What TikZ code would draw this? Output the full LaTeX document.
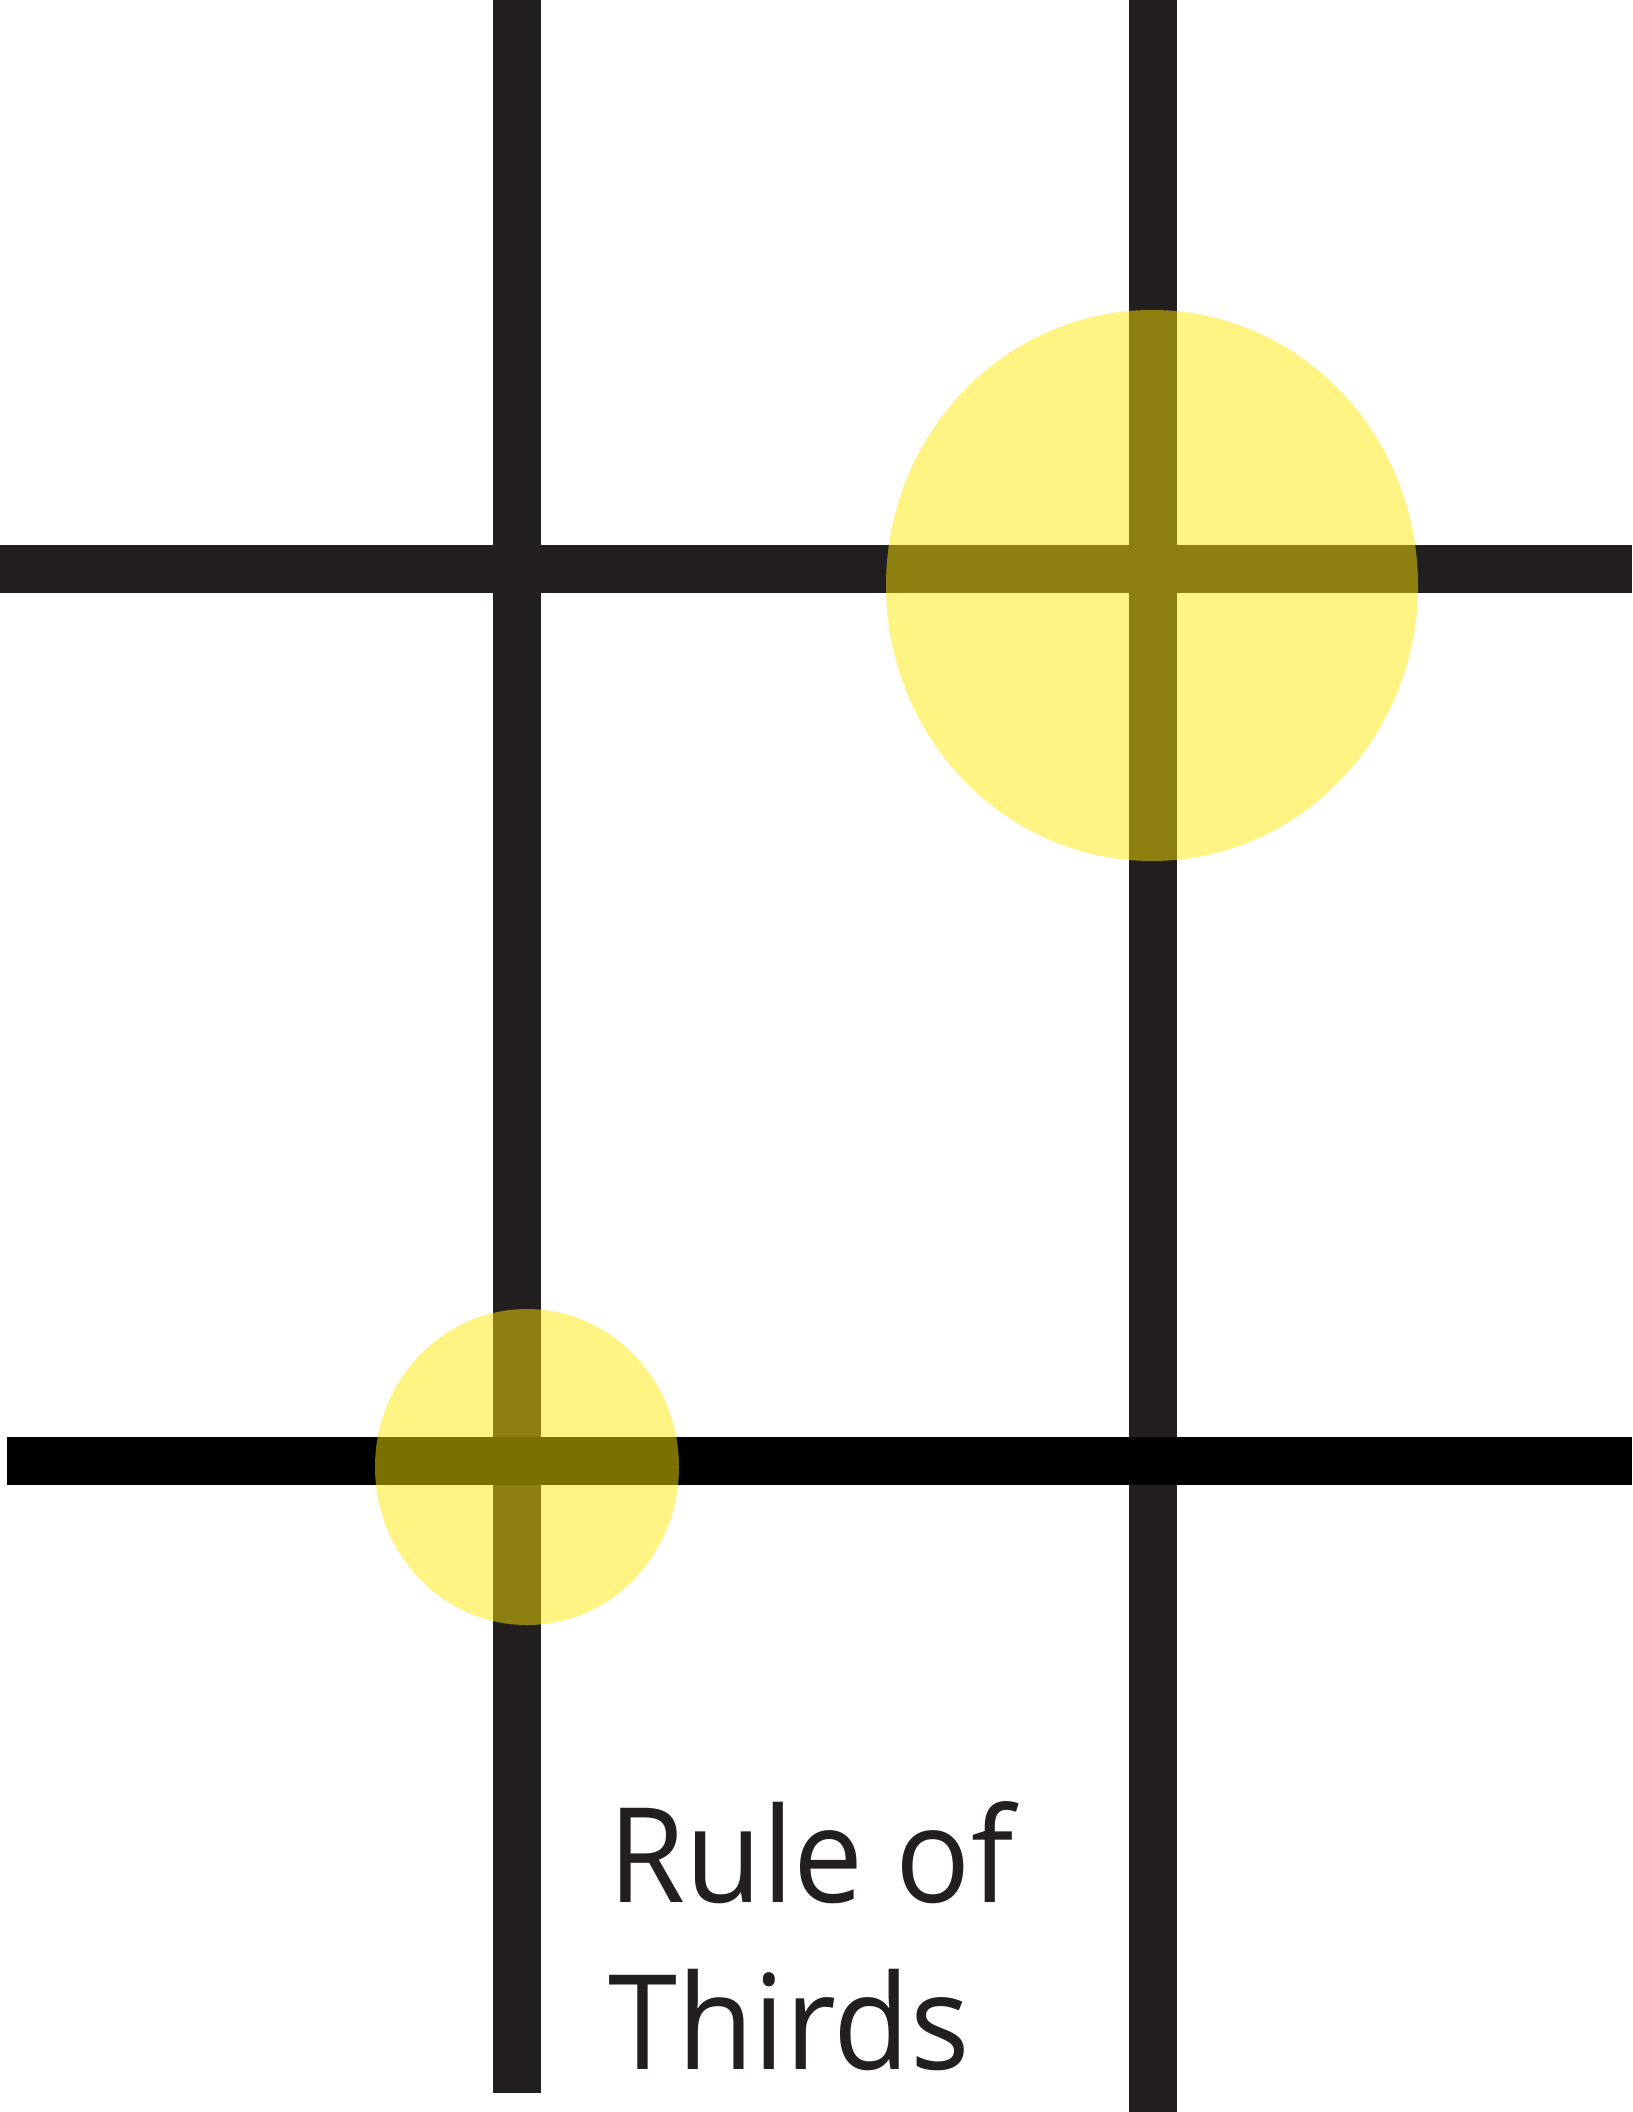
\documentclass[tikz,border=0pt]{standalone}
\usepackage{fontspec}
\setmainfont{Open Sans}
\definecolor{linegray}{RGB}{35,31,32}
\definecolor{spot}{RGB}{255,232,0}
\newcommand{\capnarrow}[1]{\scalebox{0.945}[1]{#1}}
\begin{document}
\begin{tikzpicture}[x=0.5pt,y=-0.5pt,
  gridline/.style={fill=linegray},
  gridblack/.style={fill=black},
  spotlight/.style={fill=spot,fill opacity=0.482},
  caption/.style={inner sep=0pt,text=linegray,font=\fontsize{66}{79}\selectfont}]
\useasboundingbox (0,0) rectangle (1632,2112);
\fill[white] (0,0) rectangle (1632,2112);
% vertical lines
\path[gridline] (493,0) rectangle (541,2093);
\path[gridline] (1129,0) rectangle (1177,2112);
% horizontal lines
\path[gridline] (0,545) rectangle (1632,593);
\path[gridblack] (7,1437) rectangle (1632,1485);
% highlight spots
\path[spotlight] (1152,585.5) ellipse [x radius=266, y radius=275.5];
\path[spotlight] (527,1467) ellipse [x radius=152, y radius=158];
% caption
\node[caption,anchor=base west] (rule) at (608,1902) {\capnarrow{Rule of}};
\node[caption,anchor=base west] (thirds) at (608,2069) {\capnarrow{Thirds}};
\end{tikzpicture}
\end{document}
